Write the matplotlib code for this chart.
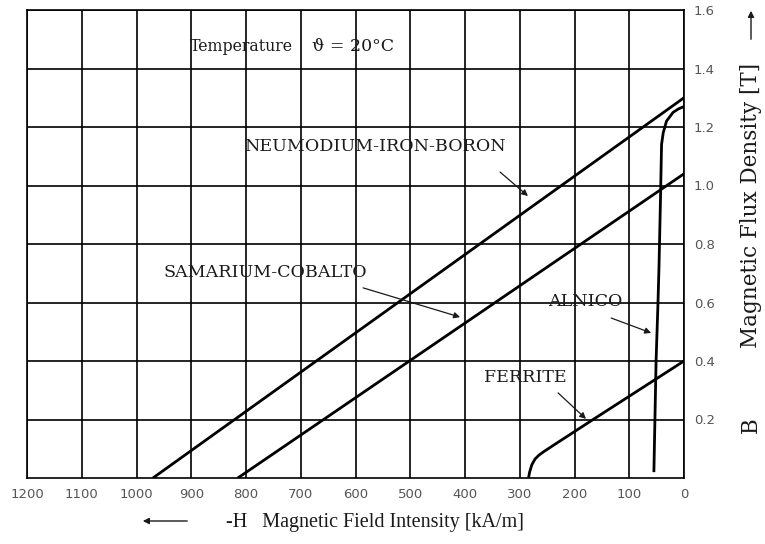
import numpy as np
import matplotlib
matplotlib.use("Agg")
import matplotlib.pyplot as plt

# Demagnetisation curves of permanent-magnet materials at 20 °C
# H values in kA/m (drawn as -H), B values in T
ndfeb_h = [970, 0]
ndfeb_b = [0.0, 1.30]

smco_h = [815, 0]
smco_b = [0.0, 1.04]

ferrite_h = [284, 282, 278, 272, 265, 257, 240, 166, 0]
ferrite_b = [0.0, 0.02, 0.045, 0.065, 0.078, 0.089, 0.11, 0.20, 0.40]

alnico_h = [55, 51, 47.5, 45.7, 43, 41, 38, 32, 20, 10, 0]
alnico_b = [0.02, 0.40, 0.60, 0.72, 0.95, 1.14, 1.18, 1.22, 1.25, 1.262, 1.27]

x_ticks = [1200, 1100, 1000, 900, 800, 700, 600, 500, 400, 300, 200, 100, 0]
y_ticks = [0.2, 0.4, 0.6, 0.8, 1.0, 1.2, 1.4, 1.6]
y_ticklabels = ["0.2", "0.4", "0.6", "0.8", "1.0", "1.2", "1.4", "1.6"]

serif = ["Liberation Serif", "DejaVu Serif"]
wide_serif = ["DejaVu Serif"]
ink = "#1a1a1a"

fig = plt.figure(figsize=(7.65, 5.44), dpi=100)
ax = fig.add_axes([27 / 765, 1 - 478 / 544, 657 / 765, 468 / 544])

ax.set_xlim(1200, 0)
ax.set_ylim(0, 1.6)
ax.set_xticks(x_ticks)
ax.set_xticklabels([str(v) for v in x_ticks])
ax.set_yticks(y_ticks)
ax.set_yticklabels(y_ticklabels)
ax.yaxis.tick_right()
ax.tick_params(length=0, labelsize=9.5, labelcolor="#555555", pad=7)
ax.set_axisbelow(True)
ax.grid(True, color="black", lw=1.2)
for s in ax.spines.values():
    s.set_linewidth(1.2)
    s.set_color("black")

curve_kw = dict(color="black", lw=2.0, solid_capstyle="butt")
ax.plot(ndfeb_h, ndfeb_b, **curve_kw)
ax.plot(smco_h, smco_b, **curve_kw)
ax.plot(ferrite_h, ferrite_b, **curve_kw)
ax.plot(alnico_h, alnico_b, **curve_kw)

arrow_kw = dict(arrowstyle="-|>", lw=0.9, color=ink, mutation_scale=9,
                shrinkA=0, shrinkB=0)
lab_kw = dict(family=wide_serif, fontsize=12.6, color=ink, ha="center",
              va="center")

ax.annotate("", xy=(285, 0.964), xytext=(336, 1.046), arrowprops=arrow_kw)
ax.text(564, 1.132, "NEUMODIUM-IRON-BORON", **lab_kw)

ax.annotate("", xy=(409, 0.550), xytext=(586, 0.650), arrowprops=arrow_kw)
ax.text(765, 0.701, "SAMARIUM-COBALTO", **lab_kw)

ax.annotate("", xy=(60, 0.496), xytext=(133, 0.547), arrowprops=arrow_kw)
ax.text(181, 0.605, "ALNICO", **lab_kw)

ax.annotate("", xy=(179, 0.202), xytext=(230, 0.291), arrowprops=arrow_kw)
ax.text(289, 0.342, "FERRITE", **lab_kw)

ax.text(902, 1.474, "Temperature", family=wide_serif, fontsize=11.3,
        color=ink, ha="left", va="center")
ax.text(680, 1.474, "ϑ = 20°C", family=wide_serif, fontsize=12.5,
        color=ink, ha="left", va="center")

# axis titles with direction arrows
fig.text(375 / 765, 1 - 523 / 544, "-H   Magnetic Field Intensity [kA/m]",
         family=serif, fontsize=14.5, color=ink, ha="center", va="center")
fig.patches.append(matplotlib.patches.FancyArrowPatch(
    (190 / 765, 1 - 521 / 544), (140 / 765, 1 - 521 / 544),
    transform=fig.transFigure, arrowstyle="-|>", lw=1.0, color=ink,
    mutation_scale=9))

fig.text(751 / 765, 1 - 425 / 544, "B", family=wide_serif, fontsize=15.5,
         color=ink, rotation=90, ha="center", va="center")
fig.text(751 / 765, 1 - 205 / 544, "Magnetic Flux Density [T]",
         family=wide_serif, fontsize=15.5, color=ink, rotation=90,
         ha="center", va="center")
fig.patches.append(matplotlib.patches.FancyArrowPatch(
    (751 / 765, 1 - 42 / 544), (751 / 765, 1 - 8 / 544),
    transform=fig.transFigure, arrowstyle="-|>", lw=1.0, color=ink,
    mutation_scale=9))

fig.savefig("out.png", dpi=100, facecolor="white")
